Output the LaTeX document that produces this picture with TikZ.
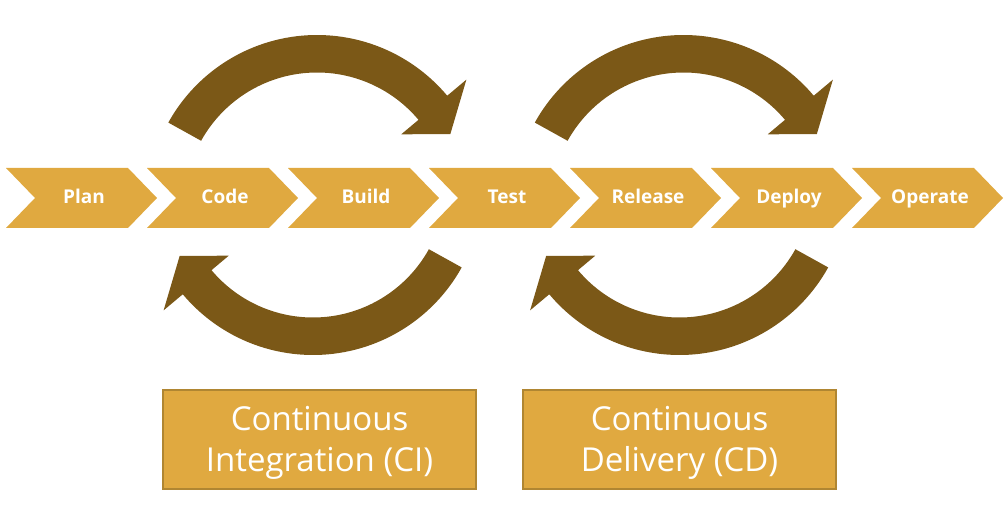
\documentclass[tikz,border=0pt]{standalone}
\usepackage{fontspec}
\setmainfont{Open Sans}
\usetikzlibrary{calc}
\definecolor{gold}{RGB}{224,169,64}
\definecolor{arrowbrown}{RGB}{123,88,23}
\definecolor{boxedge}{RGB}{176,134,50}
\begin{document}
\begin{tikzpicture}[x=1pt,y=1pt,
  chev/.style={fill=gold},
  steplabel/.style={text=white,anchor=base,inner sep=0pt,font=\fontsize{19}{23}\selectfont\bfseries},
  bigarrow/.pic={\fill[arrowbrown] (151:170) arc[start angle=151,end angle=40,radius=170] -- (40:195) -- (28:151) -- (40:110) -- (40:132.5) arc[start angle=40,end angle=151,radius=132.5] -- cycle;},
  phasebox/.style={draw=boxedge,line width=1.5pt,fill=gold,minimum width=313,minimum height=99,inner sep=0pt},
  phasetext/.style={text=white,align=center,inner sep=0pt,font=\fontsize{33}{41}\selectfont}]
\useasboundingbox (0,0) rectangle (1005,531);
\foreach \n [count=\i from 0] in {Plan,Code,Build,Test,Release,Deploy,Operate}{
  \pgfmathsetmacro\L{6+141*\i}
  \fill[chev] (\L,363) -- (\L+122,363) -- (\L+151,333) -- (\L+122,303) -- (\L,303) -- (\L+29,333) -- cycle;
  \node[steplabel] (\n) at (\L+78,327) {\n};
}
\pic at (317,326) {bigarrow};
\pic[rotate=180] at (313,346) {bigarrow};
\pic at (683.5,326) {bigarrow};
\pic[rotate=180] at (679.5,346) {bigarrow};
\node[phasebox] (ci) at (319.5,91.5) {};
\node[phasetext] (citext) at ([yshift=-3]ci.center) {Continuous\\Integration (CI)};
\node[phasebox] (cd) at (679.5,91.5) {};
\node[phasetext] (cdtext) at ([yshift=-3]cd.center) {Continuous\\Delivery (CD)};
\end{tikzpicture}
\end{document}
